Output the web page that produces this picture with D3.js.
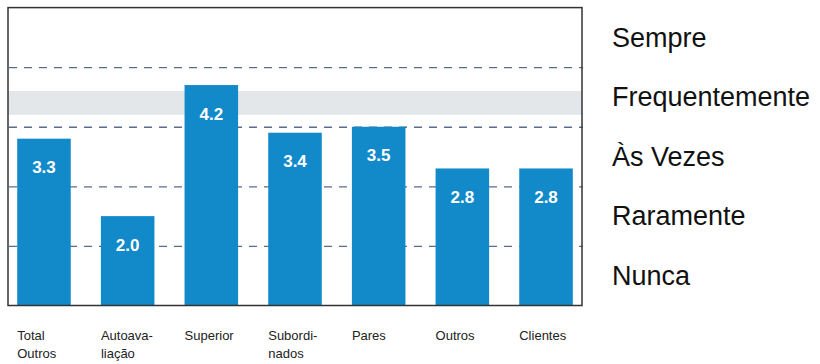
<!DOCTYPE html>
<html>
<head>
<meta charset="utf-8">
<script src="https://cdn.jsdelivr.net/npm/d3@7"></script>
<style>
  body { margin: 0; background: #fff; }
  text { font-family: "Liberation Sans", Arial, sans-serif; }
</style>
</head>
<body>
<div id="chart"></div>
<script>
// categories (line breaks as in the original)
let categories = ["Total\nOutros", "Autoava-\nliação", "Superior", "Subordi-\nnados", "Pares", "Outros", "Clientes"];
let scores = [3.3, 2.0, 4.2, 3.4, 3.5, 2.8, 2.8];

// answer scale shown on the right
let levelNames = ["Nunca", "Raramente", "Às Vezes", "Frequentemente", "Sempre"];
let levelValues = [1, 2, 3, 4, 5];
let gridValues = [1.5, 2.5, 3.5, 4.5];
let bandRange = [3.7, 4.1];

let svgWidth = 820;
let svgHeight = 364;

let plot = { left: 8, right: 582, top: 7.6, bottom: 305.5 };

let svg = d3.select("#chart")
  .append("svg")
  .attr("width", svgWidth)
  .attr("height", svgHeight);

let x = d3.scaleBand()
  .domain(categories)
  .range([plot.left, plot.right])
  .paddingInner(0.36)
  .paddingOuter(0.11);

let y = d3.scaleLinear()
  .domain([0.5, 5.5])
  .range([plot.bottom, plot.top]);

// grey reference band
svg.append("rect")
  .attr("x", plot.left)
  .attr("y", y(bandRange[1]))
  .attr("width", plot.right - plot.left)
  .attr("height", y(bandRange[0]) - y(bandRange[1]))
  .attr("fill", "#e4e7ea");

// dashed grid
let grid = svg.append("g")
  .attr("transform", `translate(${plot.left},0)`)
  .call(d3.axisLeft(y).tickValues(gridValues).tickFormat("").tickSize(-(plot.right - plot.left)));
grid.select(".domain").remove();
grid.selectAll(".tick line")
  .attr("stroke", "#5b6b8c")
  .attr("stroke-width", 1.3)
  .attr("stroke-dasharray", "8,7")
  .attr("transform", "translate(1,0)");

// bars
svg.selectAll("rect.bar")
  .data(scores)
  .enter()
  .append("rect")
  .attr("class", "bar")
  .attr("x", (d, i) => x(categories[i]))
  .attr("y", d => y(d))
  .attr("width", x.bandwidth())
  .attr("height", d => plot.bottom - y(d))
  .attr("fill", "#1289c9");

svg.selectAll("text.value")
  .data(scores)
  .enter()
  .append("text")
  .attr("class", "value")
  .attr("x", (d, i) => x(categories[i]) + x.bandwidth() / 2)
  .attr("y", d => y(d) + 34.5)
  .attr("text-anchor", "middle")
  .attr("font-size", "17px")
  .attr("font-weight", "bold")
  .attr("fill", "#fff")
  .text(d => d3.format(".1f")(d));

// frame
svg.append("rect")
  .attr("x", plot.left)
  .attr("y", plot.top)
  .attr("width", plot.right - plot.left)
  .attr("height", plot.bottom - plot.top)
  .attr("fill", "none")
  .attr("stroke", "#333")
  .attr("stroke-width", 1.5);

// category labels, left aligned under each bar
let catLabels = svg.selectAll("text.cat")
  .data(categories)
  .enter()
  .append("text")
  .attr("class", "cat")
  .attr("x", d => x(d))
  .attr("y", 340)
  .attr("font-size", "13px")
  .attr("fill", "#222");

catLabels.selectAll("tspan")
  .data(d => d.split("\n"))
  .enter()
  .append("tspan")
  .attr("x", function() { return this.parentNode.getAttribute("x"); })
  .attr("dy", (d, i) => i === 0 ? 0 : 18)
  .text(d => d);

// level names on the right
let levelScale = d3.scaleOrdinal().domain(levelValues).range(levelNames);
let right = svg.append("g")
  .attr("transform", "translate(612,0)")
  .call(d3.axisRight(y).tickValues(levelValues).tickSize(0).tickPadding(0).tickFormat(d => levelScale(d)));
right.select(".domain").remove();
right.selectAll("text")
  .attr("font-family", "'Liberation Sans', Arial, sans-serif")
  .attr("font-size", "27px")
  .attr("fill", "#111");
</script>
</body>
</html>
